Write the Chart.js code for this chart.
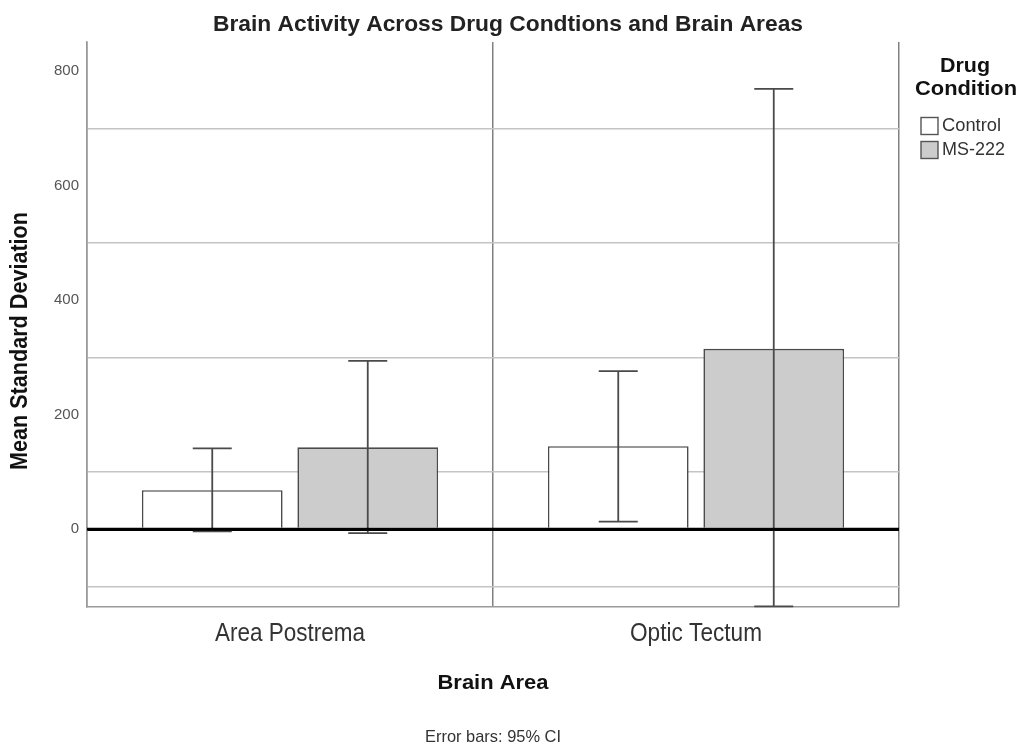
<!DOCTYPE html>
<html>
<head>
<meta charset="utf-8">
<script src="https://cdn.jsdelivr.net/npm/chart.js@4/dist/chart.umd.min.js"></script>
<style>
  html, body { margin: 0; padding: 0; background: #fff; }
  #wrap { width: 1023px; height: 749px; position: relative; }
</style>
</head>
<body>
<div id="wrap"><canvas id="c" width="1023" height="749"></canvas></div>
<script>
// ---- Data ----
const categories = ['Area Postrema', 'Optic Tectum'];
const seriesNames = ['Control', 'MS-222'];
const controlMeans = [68, 145];
const ms222Means = [143, 315];
const controlLow = [-4, 13];
const controlHigh = [141, 276];
const ms222Low = [-7, -135];
const ms222High = [294, 769];
const yTickLabels = [0, 200, 400, 600, 800];
const yGridValues = [-100, 100, 300, 500, 700];

const titleText = 'Brain Activity Across Drug Condtions and Brain Areas';
const yTitle = 'Mean Standard Deviation';
const xTitle = 'Brain Area';
const footnote = 'Error bars: 95% CI';
const legendTitle = ['Drug', 'Condition'];

const FONT = '"Liberation Sans", Arial, sans-serif';
const fills = ['#ffffff', '#cccccc'];
const errLow = [controlLow, ms222Low];
const errHigh = [controlHigh, ms222High];
const xLabelWidths = [150, 132];

// draws text centred at (cx, cy), squeezed/stretched horizontally to targetWidth
function fitText(ctx, text, cx, cy, font, targetWidth, color, angle) {
  ctx.save();
  ctx.font = font;
  ctx.fillStyle = color;
  ctx.textAlign = 'center';
  ctx.textBaseline = 'middle';
  const w = ctx.measureText(text).width;
  const sx = targetWidth ? targetWidth / w : 1;
  ctx.translate(cx, cy);
  if (angle) ctx.rotate(angle);
  ctx.scale(sx, 1);
  ctx.fillText(text, 0, 0);
  ctx.restore();
}

const extrasPlugin = {
  id: 'extras',
  afterDatasetsDraw(chart) {
    const ctx = chart.ctx;
    const y = chart.scales.y;
    const area = chart.chartArea;
    // error bars
    ctx.save();
    ctx.beginPath();
    ctx.rect(area.left, area.top, area.right - area.left, area.bottom - area.top + 3);
    ctx.clip();
    ctx.strokeStyle = '#4a4a4a';
    ctx.lineWidth = 1.8;
    chart.data.datasets.forEach((ds, di) => {
      const meta = chart.getDatasetMeta(di);
      meta.data.forEach((el, i) => {
        const x = el.x;
        const yl = y.getPixelForValue(errLow[di][i]);
        const yh = y.getPixelForValue(errHigh[di][i]);
        const cap = 19.5;
        ctx.beginPath();
        ctx.moveTo(x, yl); ctx.lineTo(x, yh);
        ctx.moveTo(x - cap, yh); ctx.lineTo(x + cap, yh);
        ctx.moveTo(x - cap, yl); ctx.lineTo(x + cap, yl);
        ctx.stroke();
      });
    });
    ctx.restore();
    // redraw zero line on top
    ctx.save();
    const y0 = y.getPixelForValue(0);
    ctx.strokeStyle = '#000';
    ctx.lineWidth = 3;
    ctx.beginPath();
    ctx.moveTo(area.left, y0); ctx.lineTo(area.right, y0);
    ctx.stroke();
    ctx.restore();
  },
  afterDraw(chart) {
    const ctx = chart.ctx;
    const area = chart.chartArea;
    const xs = chart.scales.x;
    const midX = (area.left + area.right) / 2;
    // title
    fitText(ctx, titleText, 508, 25, 'bold 22px ' + FONT, 590, '#222');
    // y title
    fitText(ctx, yTitle, 21, 341, 'bold 23px ' + FONT, 258, '#111', -Math.PI / 2);
    // x category labels
    categories.forEach((lab, i) => {
      fitText(ctx, lab, xs.getPixelForTick(i), 634, '26px ' + FONT, xLabelWidths[i], '#333');
    });
    // x title
    fitText(ctx, xTitle, midX, 683, 'bold 21px ' + FONT, 111, '#111');
    // footnote
    fitText(ctx, footnote, midX, 737, '17px ' + FONT, 136, '#333');
    // legend
    fitText(ctx, legendTitle[0], 965, 66, 'bold 21px ' + FONT, 50, '#111');
    fitText(ctx, legendTitle[1], 966, 89, 'bold 21px ' + FONT, 102, '#111');
    const itemW = [59, 63];
    seriesNames.forEach((name, i) => {
      const cy = 126 + i * 24;
      ctx.save();
      ctx.fillStyle = fills[i];
      ctx.strokeStyle = '#555';
      ctx.lineWidth = 1.4;
      ctx.fillRect(921, cy - 8.5, 17, 17);
      ctx.strokeRect(921, cy - 8.5, 17, 17);
      ctx.restore();
      fitText(ctx, name, 942 + itemW[i] / 2, cy, '19px ' + FONT, itemW[i], '#333');
    });
  }
};

new Chart(document.getElementById('c'), {
  type: 'bar',
  data: {
    labels: categories,
    datasets: [
      { label: seriesNames[0], data: controlMeans, backgroundColor: fills[0], borderColor: '#4a4a4a', borderWidth: 1.6 },
      { label: seriesNames[1], data: ms222Means, backgroundColor: fills[1], borderColor: '#4a4a4a', borderWidth: 1.6 }
    ]
  },
  options: {
    responsive: false,
    animation: false,
    devicePixelRatio: 1,
    layout: { padding: { top: 42, right: 124, left: 0, bottom: 0 } },
    plugins: { legend: { display: false }, title: { display: false }, tooltip: { enabled: false } },
    datasets: { bar: { categoryPercentage: 0.766, barPercentage: 0.905 } },
    scales: {
      x: {
        afterFit: s => { s.height = 142; },
        grid: { offset: true, color: '#808080', lineWidth: 1.5, drawTicks: false },
        border: { display: true, color: '#999999', width: 1.5 },
        ticks: { display: false }
      },
      y: {
        min: -136,
        max: 851,
        afterFit: s => { s.width = 87; },
        afterBuildTicks: s => {
          s.ticks = yTickLabels.concat(yGridValues).sort((a, b) => a - b).map(v => ({ value: v }));
        },
        grid: {
          drawTicks: false,
          color: c => (c.tick && c.tick.value === 0) ? '#000000' : (c.tick && yGridValues.includes(c.tick.value) ? '#c4c4c4' : 'rgba(0,0,0,0)'),
          lineWidth: c => (c.tick && c.tick.value === 0) ? 3 : 1.5
        },
        border: { display: true, color: '#999999', width: 1.5 },
        ticks: {
          padding: 8,
          font: { family: FONT, size: 15 },
          color: '#555',
          callback: v => yTickLabels.includes(v) ? String(v) : ''
        }
      }
    }
  },
  plugins: [extrasPlugin]
});
</script>
</body>
</html>
